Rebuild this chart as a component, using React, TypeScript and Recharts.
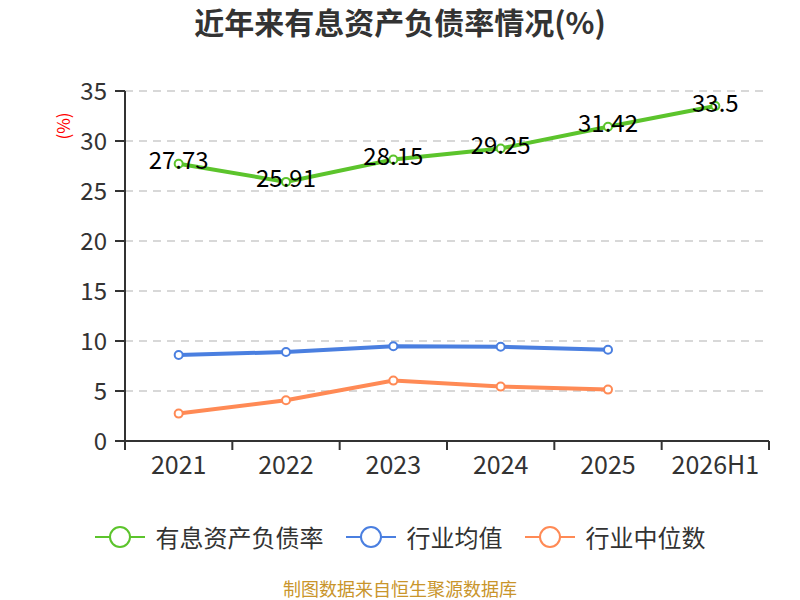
import React from "react";
import { CartesianGrid, LabelList, Line, LineChart, XAxis, YAxis } from "recharts";

const years = ["2021", "2022", "2023", "2024", "2025", "2026H1"];
const debtRatio = [27.73, 25.91, 28.15, 29.25, 31.42, 33.5];
const industryMean = [8.6, 8.9, 9.47, 9.42, 9.13, null];
const industryMedian = [2.74, 4.07, 6.04, 5.44, 5.14, null];
const yTicks = [0, 5, 10, 15, 20, 25, 30, 35];

const FONT = '"Noto Sans CJK SC", "Noto Sans", sans-serif';

const series = [
  { key: "debt", label: "有息资产负债率", color: "#5cc42c" },
  { key: "mean", label: "行业均值", color: "#4a7fe0" },
  { key: "median", label: "行业中位数", color: "#ff8a55" }
] as const;

const data = years.map((year, i) => ({
  year,
  debt: debtRatio[i],
  mean: industryMean[i],
  median: industryMedian[i]
}));

// echarts-style ticks: marks sit on the category boundaries, label in the middle
function BoundaryTick(props: any) {
  const { x, y, payload, index, visibleTicksCount } = props;
  const half = payload?.offset ?? 0;
  const isLast = index === (visibleTicksCount ?? years.length) - 1;
  return (
    <g>
      <line x1={x - half} y1={y} x2={x - half} y2={y + 9} stroke="#333" strokeWidth={2} />
      {isLast && <line x1={x + half} y1={y} x2={x + half} y2={y + 9} stroke="#333" strokeWidth={2} />}
      <text x={x} y={y + 33} textAnchor="middle" fontSize={25} fill="#333" fontFamily={FONT}>
        {payload.value}
      </text>
    </g>
  );
}

function LegendIcon({ color }: { color: string }) {
  return (
    <svg width={50} height={24}>
      <line x1={0} y1={12} x2={50} y2={12} stroke={color} strokeWidth={2} />
      <circle cx={25} cy={12} r={10} fill="#fff" stroke={color} strokeWidth={2} />
    </svg>
  );
}

export default function App() {
  return (
    <div style={{ position: "absolute", left: 0, top: 0, width: 800, height: 600, background: "#fff", fontFamily: FONT }}>
      <div
        style={{
          position: "absolute",
          top: 1,
          width: 800,
          textAlign: "center",
          fontSize: 30,
          fontWeight: "bold",
          color: "#333",
          lineHeight: "40px"
        }}
      >
        近年来有息资产负债率情况(%)
      </div>

      <LineChart width={800} height={600} data={data} margin={{ top: 91, right: 31, bottom: 99, left: 0 }}>
        <CartesianGrid stroke="#ccc" strokeDasharray="8 6" vertical={false} strokeWidth={1.5} />
        <XAxis
          dataKey="year"
          scale="band"
          axisLine={{ stroke: "#333", strokeWidth: 2 }}
          tickLine={false}
          tickSize={0}
          tickMargin={0}
          tick={<BoundaryTick />}
          interval={0}
          height={60}
        />
        <YAxis
          domain={[0, 35]}
          ticks={yTicks}
          width={125}
          axisLine={{ stroke: "#333", strokeWidth: 2 }}
          tickLine={{ stroke: "#333", strokeWidth: 2 }}
          tickSize={10}
          tickMargin={8}
          tick={{ fontSize: 24, fill: "#333", fontFamily: FONT }}
          label={{
            content: (p: any) => {
              const vb = p.viewBox || { x: 0, y: 91 };
              const cx = vb.x + 62;
              const cy = vb.y + 35;
              return (
                <text
                  x={cx}
                  y={cy}
                  transform={`rotate(-90, ${cx}, ${cy})`}
                  textAnchor="middle"
                  dominantBaseline="central"
                  fontSize={17}
                  fill="#ff0000"
                  fontFamily={FONT}
                >
                  (%)
                </text>
              );
            }
          }}
        />
        {series.map((s) => (
          <Line
            key={s.key}
            dataKey={s.key}
            name={s.label}
            stroke={s.color}
            strokeWidth={4}
            dot={{ r: 4, fill: "#fff", stroke: s.color, strokeWidth: 2 }}
            activeDot={false}
            isAnimationActive={false}
            connectNulls={false}
          >
            {s.key === "debt" && (
              <LabelList
                dataKey="debt"
                position="center"
                offset={0}
                fontSize={24}
                fill="#000"
                fontFamily={FONT}
                dy={-3}
              />
            )}
          </Line>
        ))}
      </LineChart>

      <div
        style={{
          position: "absolute",
          top: 522,
          left: 0,
          width: 800,
          display: "flex",
          justifyContent: "center",
          alignItems: "center",
          gap: 22,
          fontSize: 24,
          color: "#333",
          lineHeight: "30px"
        }}
      >
        {series.map((s) => (
          <div key={s.key} style={{ display: "flex", alignItems: "center", gap: 11 }}>
            <LegendIcon color={s.color} />
            <span>{s.label}</span>
          </div>
        ))}
      </div>

      <div
        style={{
          position: "absolute",
          top: 576,
          width: 800,
          textAlign: "center",
          fontSize: 18,
          color: "#c9952b",
          lineHeight: "24px"
        }}
      >
        制图数据来自恒生聚源数据库
      </div>
    </div>
  );
}
